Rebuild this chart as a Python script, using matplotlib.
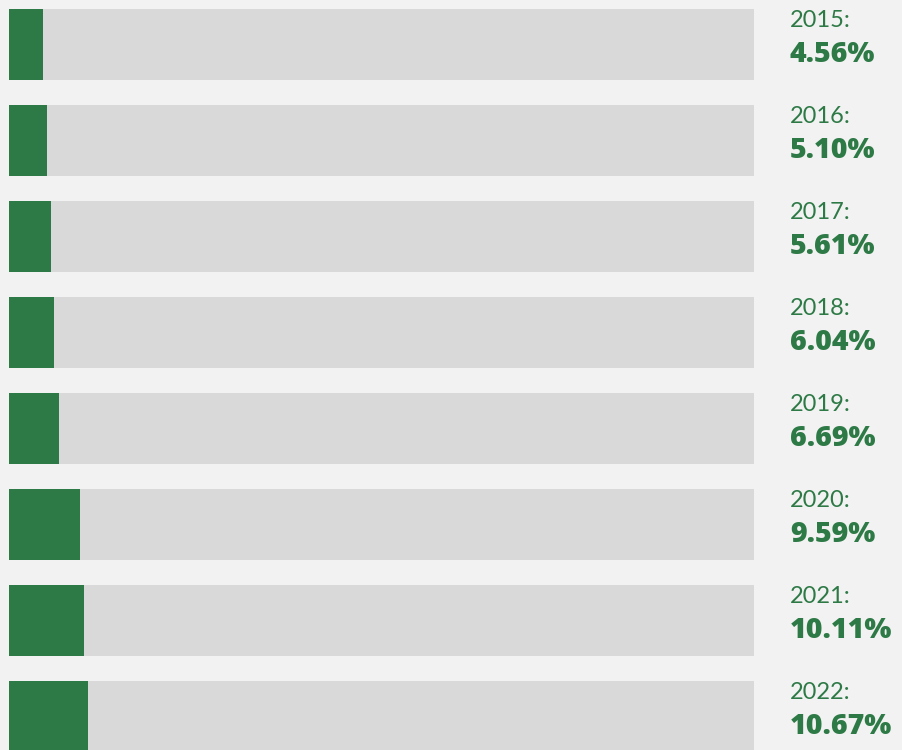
import matplotlib
matplotlib.use("Agg")
import matplotlib.pyplot as plt

years = ["2015", "2016", "2017", "2018", "2019", "2020", "2021", "2022"]
values = [4.56, 5.10, 5.61, 6.04, 6.69, 9.59, 10.11, 10.67]
total = 100

GREEN = "#2e7a46"
GRAY = "#d9d9d9"
BG = "#f2f2f2"

W, H = 902, 750
fig = plt.figure(figsize=(W / 100, H / 100), dpi=100, facecolor=BG)
ax = fig.add_axes([0, 0, 1, 1])
ax.set_facecolor(BG)

px_per_unit = (754 - 9) / total
ax.set_xlim(-9 / px_per_unit, (W - 9) / px_per_unit)
row = 96.0
ax.set_ylim((H - 44) / row, -44 / row)

ys = list(range(len(years)))
h = 71 / row
ax.barh(ys, [total] * len(ys), height=h, color=GRAY, left=0)
ax.barh(ys, values, height=h, color=GREEN, left=0)

tx = (790 - 9) / px_per_unit
for y, yr, v in zip(ys, years, values):
    ax.text(tx, y - 17 / row, f"{yr}:", color=GREEN, fontsize=17, va="baseline",
            ha="left", family=["Lato", "DejaVu Sans"])
    ax.text(tx, y + 18 / row, f"{v:.2f}%", color=GREEN, fontsize=20.5, va="baseline",
            ha="left", family=["Open Sans", "DejaVu Sans"], fontweight="heavy")

ax.axis("off")
fig.savefig("out.png", dpi=100, facecolor=BG)
